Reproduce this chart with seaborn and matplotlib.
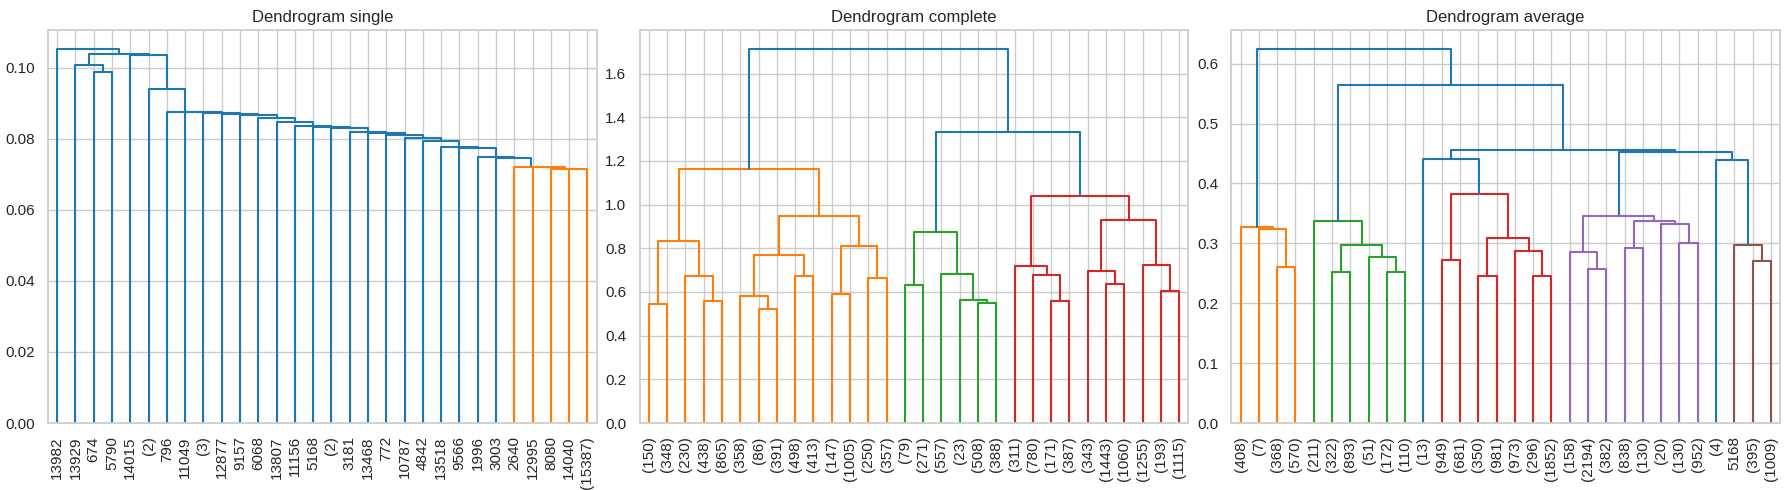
import numpy as np
import pandas as pd
import matplotlib
matplotlib.use("Agg")
import matplotlib.pyplot as plt
from matplotlib.ticker import MultipleLocator
import seaborn as sns

# ---------------- data ----------------
single_labels = ["13982", "13929", "674", "5790", "14015", "(2)", "796", "11049", "(3)", "12877",
                 "9157", "6068", "13807", "11156", "5168", "(2)", "3181", "13468", "772", "10787",
                 "4842", "13518", "9566", "1996", "3003", "2640", "12995", "8080", "14040", "(15387)"]
single_left = [2, 1, 28, 27, 26, 25, 24, 23, 22, 21, 20, 19, 18, 17, 16, 15, 14, 13, 12, 11,
               10, 9, 8, 7, 6, 5, 4, 31, 0]
single_right = [3, 30, 29, 32, 33, 34, 35, 36, 37, 38, 39, 40, 41, 42, 43, 44, 45, 46, 47, 48,
                49, 50, 51, 52, 53, 54, 55, 56, 57]
single_height = [0.0988, 0.1009, 0.0716, 0.0716, 0.0720, 0.0722, 0.0746, 0.0750, 0.0775, 0.0777,
                 0.0795, 0.0803, 0.0812, 0.0817, 0.0820, 0.0830, 0.0834, 0.0837, 0.0847, 0.0859,
                 0.0866, 0.0870, 0.0872, 0.0875, 0.0877, 0.0941, 0.1036, 0.1040, 0.1054]

complete_labels = ["(150)", "(348)", "(230)", "(438)", "(865)", "(358)", "(86)", "(391)", "(498)", "(413)",
                   "(147)", "(1005)", "(250)", "(357)", "(79)", "(271)", "(557)", "(23)", "(508)", "(388)",
                   "(311)", "(780)", "(171)", "(387)", "(343)", "(1443)", "(1060)", "(1255)", "(193)", "(1115)"]
complete_left = [0, 3, 2, 30, 6, 5, 8, 35, 10, 12, 38, 37, 33,
                 14, 18, 17, 16, 43,
                 22, 21, 20, 25, 24, 28, 27, 52, 50, 47, 42]
complete_right = [1, 4, 31, 32, 7, 34, 9, 36, 11, 13, 39, 40, 41,
                  15, 19, 44, 45, 46,
                  23, 48, 49, 26, 51, 29, 53, 54, 55, 56, 57]
complete_height = [0.5435, 0.557, 0.675, 0.832, 0.524, 0.580, 0.675, 0.771, 0.589, 0.663, 0.812, 0.950, 1.165,
                   0.634, 0.548, 0.565, 0.684, 0.873,
                   0.557, 0.679, 0.717, 0.637, 0.694, 0.606, 0.722, 0.928, 1.038, 1.334, 1.714]

average_labels = ["(408)", "(7)", "(368)", "(570)", "(211)", "(322)", "(893)", "(51)", "(172)", "(110)",
                  "(13)", "(949)", "(681)", "(350)", "(981)", "(973)", "(296)", "(1852)", "(158)", "(2194)",
                  "(382)", "(838)", "(130)", "(20)", "(130)", "(952)", "(4)", "5168", "(395)", "(1009)"]
average_left = [2, 1, 0, 5, 8, 7, 33, 4, 11, 13, 16, 15, 39, 38, 10,
                19, 18, 21, 24, 23, 47, 46, 28, 27, 26, 51, 44, 37, 32]
average_right = [3, 30, 31, 6, 9, 34, 35, 36, 12, 14, 17, 40, 41, 42, 43,
                 20, 45, 22, 25, 48, 49, 50, 29, 52, 53, 54, 55, 56, 57]
average_height = [0.260, 0.3233, 0.3267, 0.2515, 0.2515, 0.278, 0.2966, 0.338, 0.2716, 0.246, 0.246,
                  0.288, 0.309, 0.382, 0.441, 0.257, 0.285, 0.292, 0.301, 0.333, 0.338, 0.346,
                  0.271, 0.298, 0.440, 0.452, 0.4563, 0.564, 0.625]

panels = [
    ("Dendrogram single", single_labels, single_left, single_right, single_height, 0.02),
    ("Dendrogram complete", complete_labels, complete_left, complete_right, complete_height, 0.2),
    ("Dendrogram average", average_labels, average_left, average_right, average_height, 0.1),
]

palette = ["#1f77b4", "#ff7f0e", "#2ca02c", "#d62728", "#9467bd", "#8c564b",
           "#e377c2", "#7f7f7f", "#bcbd22", "#17becf"]

# ---------------- style ----------------
sns.set_theme(style="whitegrid", context="notebook")
plt.rcParams["font.family"] = ["Liberation Sans", "DejaVu Sans"]


def link_table(labels, left, right, height):
    n = len(labels)
    pos = {i: 5.0 + 10.0 * i for i in range(n)}
    hgt = {i: 0.0 for i in range(n)}
    for k, (a, b, h) in enumerate(zip(left, right, height)):
        nid = n + k
        pos[nid] = (pos[a] + pos[b]) / 2.0
        hgt[nid] = h
    root = n + len(height) - 1
    threshold = 0.7 * max(height)
    color = {}
    counter = [0]

    def paint(node, col):
        if node < n:
            return
        color[node] = col
        paint(left[node - n], col)
        paint(right[node - n], col)

    def walk(node):
        if node < n:
            return
        if hgt[node] < threshold:
            counter[0] += 1
            paint(node, palette[counter[0] % len(palette)])
        else:
            color[node] = palette[0]
            walk(left[node - n])
            walk(right[node - n])

    walk(root)
    rows = []
    for k, (a, b, h) in enumerate(zip(left, right, height)):
        nid = n + k
        xs = [pos[a], pos[a], pos[b], pos[b]]
        ys = [hgt[a], h, h, hgt[b]]
        for order, (xv, yv) in enumerate(zip(xs, ys)):
            rows.append({"x": xv, "y": yv, "link": nid, "order": order, "color": color[nid]})
    return pd.DataFrame(rows)


fig, axes = plt.subplots(1, 3, figsize=(17.89, 4.90), dpi=100)
fig.subplots_adjust(left=48 / 1789, right=1780 / 1789, top=1 - 30 / 490,
                    bottom=1 - 423 / 490, wspace=43 / 548)

for ax, (title, labels, left, right, height, step) in zip(axes, panels):
    df = link_table(labels, left, right, height)
    cols = list(dict.fromkeys(df["color"]))
    sns.lineplot(data=df, x="x", y="y", units="link", estimator=None, sort=False,
                 hue="color", palette={c: c for c in cols}, legend=False,
                 linewidth=1.5, ax=ax)
    n = len(labels)
    ax.set_xlim(0, 10 * n)
    ax.set_ylim(0, 1.05 * max(height))
    ax.set_xticks([5 + 10 * i for i in range(n)])
    ax.set_xticklabels(labels, rotation=90, fontsize=11)
    ax.yaxis.set_major_locator(MultipleLocator(step))
    ax.tick_params(axis="y", labelsize=11)
    ax.set_xlabel("")
    ax.set_ylabel("")
    ax.set_title(title, fontsize=12)

fig.savefig("out.png", dpi=100)
